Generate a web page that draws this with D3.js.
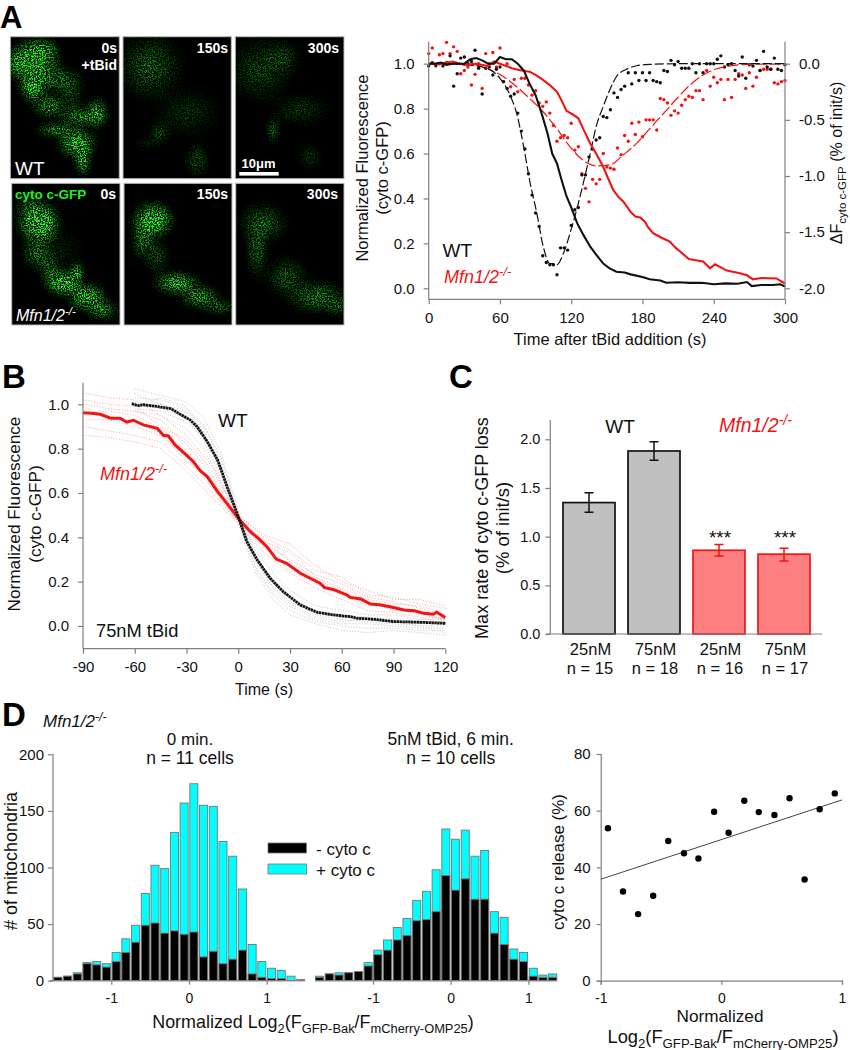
<!DOCTYPE html>
<html><head><meta charset="utf-8">
<script src="https://cdn.jsdelivr.net/npm/d3@7"></script>
<style>
html,body{margin:0;padding:0;background:#fff}
svg{display:block}
text{font-family:"Liberation Sans",Arial,sans-serif;fill:#111}
.axis path,.axis line{stroke:#808080;stroke-width:1.2;shape-rendering:geometricPrecision}
.axis text{font-size:15px;fill:#111}
</style></head><body>
<svg id="fig" width="850" height="1050"></svg>
<script>
// ---------- Panel A: time courses ----------
const aSolidWT = [[0,1],[5,1],[10,1.005],[15,.995],[20,1],[25,1],[30,1],[35,1.02],[40,1.025],[45,1.015],[50,1],[55,1],[60,1.03],[65,1.02],[70,1.02],[75,1],[80,.97],[85,.91],[90,.86],[95,.78],[100,.69],[104,.6],[108,.556],[112,.48],[116,.41],[120,.36],[125,.29],[130,.24],[136,.185],[141,.15],[147,.11],[152,.09],[158,.074],[165,.07],[170,.062],[180,.05],[186,.04],[195,.035],[200,.025],[210,.027],[220,.024],[230,.025],[240,.018],[250,.022],[260,.02],[268,.028],[272,.01],[280,.015],[290,.015],[296,.018],[300,.008]];
const aSolidKO = [[0,1],[10,1],[20,1.01],[30,.995],[40,1],[50,.99],[55,1.01],[60,1],[70,.98],[78,.97],[85,.964],[90,.95],[96.5,.927],[103,.9],[108,.875],[112,.835],[116,.79],[121,.775],[126,.757],[131,.7],[136,.645],[142,.59],[147,.54],[151,.49],[155.5,.437],[160,.405],[164,.386],[170,.34],[174,.32],[178,.315],[182,.297],[185,.27],[189,.245],[196,.225],[203,.208],[208,.18],[212,.163],[219,.13],[225,.125],[231,.119],[237,.089],[241,.107],[246,.093],[251,.079],[257,.073],[262,.067],[268,.058],[273,.04],[280,.046],[293,.044],[297,.03],[300,.022]];
const aFitWT = [[0,0],[20,-.002],[40,-.02],[52,-.056],[60,-.13],[68.5,-.28],[74,-.44],[80,-.74],[85,-1.04],[91,-1.33],[96.5,-1.63],[102,-1.78],[105,-1.78],[108,-1.79],[113.4,-1.69],[119,-1.51],[124.6,-1.3],[130,-1.07],[136,-.8],[141,-.56],[147,-.38],[153,-.22],[158,-.116],[167,-.047],[175,-.018],[186,-.006],[215,0],[260,0],[300,0]];
const aFitKO = [[0,0],[20,0],[40,-.01],[52,-.056],[63,-.116],[74,-.205],[85,-.31],[96.5,-.43],[108,-.58],[119,-.74],[130,-.86],[141,-.91],[153,-.9],[164,-.81],[175,-.71],[186,-.58],[198,-.44],[209,-.31],[220,-.19],[231,-.1],[242,-.047],[254,-.02],[270,-.006],[300,-.003]];
// rate dots, one per 3 s
const aDotsWT = [-.02,.01,-.01,0,-.02,.01,.07,-.2,-.09,.05,.06,0,.02,.12,-.04,-.27,-.04,-.03,-.1,-.05,-.03,-.16,-.22,-.29,-.27,-.44,-.6,-.76,-.98,-1.17,-1.33,-1.45,-1.71,-1.77,-1.79,-1.79,-1.88,-1.64,-1.64,-1.66,-1.44,-1.3,-1.28,-.99,-.99,-.83,-.76,-.68,-.66,-.47,-.48,-.41,-.26,-.3,-.23,-.2,-.08,-.18,-.08,-.15,-.08,-.15,-.08,-.15,-.16,-.17,-.06,-.07,.03,-.01,.02,-.04,-.04,-.04,0,-.08,0,-.08,0,0,0,.04,.07,-.03,-.01,0,-.06,-.11,.06,-.13,-.01,-.02,.03,-.06,.11,-.03,-.05,.05,-.05,-.06,-.01];
const aDotsKO = [.09,.14,-.02,.08,.09,.19,.09,.15,.11,-.09,-.06,-.03,-.19,-.095,0,-.22,.09,0,.1,-.03,.14,-.16,0,-.205,-.14,-.25,-.13,-.13,-.19,-.28,-.24,-.35,-.38,-.34,-.44,-.55,-.69,-.66,-.64,-.66,-.53,-.77,-.74,-.98,-1.11,-1.23,-1.03,-1.07,-1.03,-.8,-.92,-.93,-.94,-.75,-.81,-.64,-.69,-.53,-.63,-.52,-.65,-.5,-.5,-.5,-.59,-.31,-.32,-.35,-.46,-.42,-.44,-.37,-.32,-.29,-.3,-.24,-.24,-.32,-.06,-.2,-.12,-.17,-.14,-.32,-.14,-.3,-.14,-.09,-.1,-.22,-.08,-.2,-.12,-.06,-.05,-.05,-.05,-.17,-.18,-.16,-.15];
const aXTicks = [0,60,120,180,240,300];
const aYTicks = [0,.2,.4,.6,.8,1];
const aRTicks = [0,-.5,-1,-1.5,-2];

// ---------- Panel B ----------
const bMeanKO = [[-90,.962],[-85,.96],[-80,.955],[-74,.937],[-68.5,.937],[-64.6,.92],[-60.8,.928],[-55,.907],[-47,.892],[-43.4,.86],[-40.5,.857],[-36.6,.817],[-30,.771],[-26,.741],[-22,.7],[-18,.674],[-12,.606],[-6.6,.553],[0,.486],[7,.425],[12,.393],[16.6,.358],[22,.302],[28,.283],[36,.238],[47.6,.192],[50,.173],[55,.165],[63,.14],[65,.129],[71,.122],[76.6,.099],[82,.096],[88,.087],[96,.072],[102,.069],[107.6,.057],[113,.053],[115,.062],[120,.038]];
const bMeanWT = [[-61.7,1.003],[-58,.994],[-55,.998],[-47,.99],[-39,.98],[-33,.952],[-28,.93],[-24,.9],[-18,.832],[-12,.749],[-6.5,.629],[0,.493],[5,.38],[11,.298],[18.5,.215],[26,.155],[36,.095],[45.5,.062],[55,.05],[65,.042],[69,.035],[79,.03],[90,.02],[105,.017],[120,.012]];
const bTraceTimesKO = [-90,-75,-60,-45,-30,-15,0,15,30,45,60,75,90,105,120];
const bTracesKO = [
 [1.05,1.03,1.02,.95,.86,.72,.5,.4,.34,.25,.22,.14,.13,.1,.08],
 [1.0,.98,.97,.93,.82,.68,.48,.38,.33,.22,.17,.12,.1,.09,.06],
 [.93,.93,.9,.86,.76,.62,.47,.35,.27,.2,.15,.1,.08,.05,.03],
 [.86,.85,.83,.8,.7,.58,.46,.33,.24,.17,.12,.07,.06,.04,.01],
 [.96,.97,.95,.89,.79,.65,.49,.37,.3,.23,.19,.13,.11,.08,.05],
 [1.02,1.0,.99,.9,.84,.7,.5,.41,.37,.27,.2,.16,.12,.12,.09],
 [.9,.88,.86,.83,.72,.6,.47,.36,.25,.19,.14,.09,.09,.06,.03],
 [.99,.94,.92,.87,.74,.66,.48,.39,.29,.21,.16,.11,.07,.07,.02]
];
const bTraceTimesWT = [-60,-45,-30,-20,-10,0,10,20,30,45,60,75,90,105,120];
const bTracesWT = [
 [1.07,1.04,1.01,.94,.78,.52,.34,.24,.16,.09,.07,.05,.05,.03,.03],
 [1.03,1.02,.98,.91,.74,.5,.31,.21,.12,.07,.04,.03,.02,.01,.01],
 [.98,.97,.92,.85,.69,.48,.27,.15,.09,.03,.01,.01,0,-.01,-.01],
 [.97,.95,.89,.8,.65,.46,.24,.12,.05,.01,-.02,-.03,-.02,-.03,-.04],
 [1.0,1.0,.96,.88,.72,.49,.29,.18,.11,.05,.03,.02,.01,0,0],
 [1.05,1.0,.97,.9,.76,.51,.32,.2,.13,.06,.05,.04,.03,.02,.02],
 [1.01,.98,.94,.83,.67,.47,.26,.14,.07,.02,0,-.01,-.01,-.02,-.02],
 [.99,1.03,.99,.87,.7,.5,.3,.17,.1,.04,.02,.03,.02,0,-.03]
];
const bXTicks = [-90,-60,-30,0,30,60,90,120];
const bYTicks = [0,.2,.4,.6,.8,1];

// ---------- Panel C ----------
const cKeys = ["a","b","c","d"];
const cDose = ["25nM","75nM","25nM","75nM"];
const cN = ["n = 15","n = 18","n = 16","n = 17"];
const cMax = [1.35,1.88,.86,.82];
const cErrLo = [1.25,1.785,.80,.75];
const cErrHi = [1.45,1.975,.92,.88];
const cYTicks = [0,.5,1,1.5,2];

// ---------- Panel D ----------
const binStart = -1.6875, binStep = .125;
const dTotal0 = [3,4,7,16,17,15,25,37,49,77,102,99,131,157,174,155,154,123,110,81,32,17,11,9,4,1];
const dBlack0 = [3,4,6,15,14,12,17,25,34,49,51,42,44,41,43,21,26,15,19,27,6,3,2,2,0,0];
const dTotal6 = [4,6,7,7,8,16,27,36,47,55,71,79,98,134,125,133,110,115,61,56,28,25,11,5,6];
const dBlack6 = [3,6,5,7,8,13,23,27,36,40,53,54,61,93,80,90,72,72,42,32,19,17,4,3,3];
const dYTicks = [0,50,100,150,200];
const dXTicks = [-1,0,1];
const sX = [-.94,-.815,-.69,-.565,-.44,-.31,-.19,-.06,.06,.19,.31,.44,.565,.69,.815,.94];
const sY = [53.8,31.5,23.5,30,49.3,45,43.1,59.6,52.2,63.5,59.5,58.5,64.4,35.7,60.5,66.1];
const sFit = [[-1,35.8],[1,63.8]];
const sYTicks = [0,20,40,60,80];

// ---------- micrograph tiles: box and glow patches [cx,cy,rx,ry,strength] ----------
const tiles = [
 {box:[10.3,36.7,119.3,178.7],blobs:[[33,63,20,17,.75],[33,87,9,10,1],[40,50,14,9,.6],[57,80,20,10,.42],[50,107,9,9,.45],[80,117,16,7,.55],[97,113,8,11,.7],[57,130,16,4,.75],[77,143,14,11,.85],[83,160,5,12,.85],[20,63,9,9,.65],[45,105,14,8,.3],[70,97,10,16,.25]]},
 {box:[123,36.7,231.3,178.7],blobs:[[150,67,24,24,.34],[160,133,7,8,.34],[197,160,9,13,.3],[187,113,25,18,.18],[147,143,9,3,.25]]},
 {box:[235.3,36.7,344,178.7],blobs:[[260,70,24,24,.25],[283,57,13,13,.24],[273,130,4,9,.5],[310,157,9,9,.22],[300,110,22,12,.2]]},
 {box:[11.7,183.3,120,325],blobs:[[42,223,13,15,1],[30,217,11,20,.5],[37,253,11,12,.45],[63,283,13,9,1],[77,273,4,8,1],[87,297,14,10,.85],[103,310,12,7,.6],[50,270,8,12,.4],[60,250,20,16,.12]]},
 {box:[124,183.3,232,325],blobs:[[153,220,15,13,.95],[143,240,9,15,.45],[177,283,17,8,.8],[200,297,15,8,.65],[220,307,12,5,.5],[157,257,9,13,.3]]},
 {box:[235.7,183.3,344,325],blobs:[[263,223,18,15,.36],[257,250,8,22,.36],[287,277,15,15,.34],[317,297,22,12,.45],[337,307,7,6,.45]]}
];
const tileTimes = ["0s","150s","300s","0s","150s","300s"];
const tileRight = [117,228,339,116,228,338];

const RED="#f01414";
const svg = d3.select("#fig");
const defs = svg.append("defs");
const grad = defs.append("radialGradient").attr("id","glow");
grad.append("stop").attr("offset","0%").attr("stop-color","#1dff1d").attr("stop-opacity",1);
grad.append("stop").attr("offset","50%").attr("stop-color","#18e018").attr("stop-opacity",.5);
grad.append("stop").attr("offset","100%").attr("stop-color","#10c010").attr("stop-opacity",0);
const speck = defs.append("filter").attr("id","speck").attr("filterUnits","userSpaceOnUse")
  .attr("x",0).attr("y",0).attr("width",360).attr("height",340).attr("color-interpolation-filters","sRGB");
speck.append("feTurbulence").attr("type","fractalNoise").attr("baseFrequency",.75).attr("numOctaves",2).attr("seed",11).attr("result","n");
speck.append("feColorMatrix").attr("in","n").attr("type","matrix")
  .attr("values","0 0 0 0 1  0 0 0 0 1  0 0 0 0 1  4.2 0 0 0 -1.75").attr("result","m");
speck.append("feGaussianBlur").attr("in","SourceGraphic").attr("stdDeviation",3).attr("result","b");
speck.append("feComposite").attr("in","b").attr("in2","m").attr("operator","arithmetic")
  .attr("k1",2.1).attr("k2",0).attr("k3",0).attr("k4",-.015).attr("result","c");
speck.append("feGaussianBlur").attr("in","c").attr("stdDeviation",.35);

// rich text helper: segments are [string, mode] with mode "", "sub" or "sup"
function rich(g,x,y,segs,o={}){
  const size=o.size||16;
  const t=g.append("text").attr("x",x).attr("y",y).attr("font-size",size)
    .attr("text-anchor",o.anchor||"start");
  if(o.rotate) t.attr("transform",`rotate(-90 ${x} ${y})`);
  if(o.fill) t.style("fill",o.fill);
  if(o.italic) t.attr("font-style","italic");
  if(o.bold) t.attr("font-weight","bold");
  let shift=0;
  segs.forEach(([s,m])=>{
    const target = m==="sub"? size*.28 : m==="sup"? -size*.38 : 0;
    t.append("tspan").attr("dy",target-shift).attr("font-size",m?size*.72:size).text(s);
    shift=target;
  });
  return t;
}
const MFN=[["Mfn1/2",""],["-/-","sup"]];
function label(x,y,s,size,o={}){return rich(svg,x,y,[[s,""]],Object.assign({size},o));}

// ---------- micrographs ----------
const tileG = svg.append("g");
tiles.forEach((t,i)=>{
  const [x0,y0,x1,y1]=t.box;
  const g=tileG.append("g");
  g.append("rect").attr("x",x0).attr("y",y0).attr("width",x1-x0).attr("height",y1-y0).attr("fill","#000").attr("stroke","#bdbdbd").attr("stroke-width",1);
  const cid="tc"+i;
  defs.append("clipPath").attr("id",cid).append("rect").attr("x",x0).attr("y",y0).attr("width",x1-x0).attr("height",y1-y0);
  g.append("g").attr("clip-path",`url(#${cid})`).append("g").attr("filter","url(#speck)")
   .selectAll("ellipse").data(t.blobs).join("ellipse")
   .attr("cx",d=>d[0]).attr("cy",d=>d[1]).attr("rx",d=>d[2]*1.6).attr("ry",d=>d[3]*1.6)
   .attr("fill","url(#glow)").attr("opacity",d=>d[4]);
  label(tileRight[i],i<3?52.5:199,tileTimes[i],14,{anchor:"end",bold:true,fill:"#fff"});
});
label(117,70,"+tBid",14,{anchor:"end",bold:true,fill:"#fff"});
label(15,174.5,"WT",19,{fill:"#fff"});
label(15,199,"cyto c-GFP",13.5,{bold:true,fill:"#22ee22"});
rich(svg,16,321,MFN,{size:16,italic:true,fill:"#fff"});
label(258.5,168,"10\u03BCm",13,{anchor:"middle",bold:true,fill:"#fff"});
const scaleBarUm=[0,10];
const sb=d3.scaleLinear().domain(scaleBarUm).range([239.3,278.7]);
svg.append("rect").attr("x",sb(0)).attr("y",172).attr("width",sb(10)-sb(0)).attr("height",3.6).attr("fill","#fff");

// panel letters
[["A",0,28,31],["B",2,388,33],["C",449,388,33],["D",2,726,33]].forEach(([s,x,y,z])=>label(x,y,s,z,{bold:true,fill:"#000"}));

function axis(gen,tx,ty){return svg.append("g").attr("class","axis").attr("transform",`translate(${tx},${ty})`).call(gen);}
const pts=(xs,ys)=>xs.map((x,i)=>[x,ys[i]]);

// ---------- Panel A chart ----------
{
 const x=d3.scaleLinear().domain([0,300]).range([428.7,785]);
 const y=d3.scaleLinear().domain([0,1]).range([288.3,63.7]);
 const yr=d3.scaleLinear().domain([-2,0]).range([288.3,63.7]);
 const yBottom=299.3,yTop=41.7;
 const dots=(arr,c)=>svg.append("g").selectAll("circle").data(arr).join("circle")
   .attr("cx",(d,i)=>x(i*3)).attr("cy",d=>yr(d)).attr("r",1.7).attr("fill",c);
 dots(aDotsKO,RED); dots(aDotsWT,"#111");
 const lr=d3.line().x(d=>x(d[0])).y(d=>yr(d[1])).curve(d3.curveMonotoneX);
 const l=d3.line().x(d=>x(d[0])).y(d=>y(d[1]));
 svg.append("path").attr("d",lr(aFitKO)).attr("fill","none").attr("stroke",RED).attr("stroke-width",1.2).attr("stroke-dasharray","11 3");
 svg.append("path").attr("d",lr(aFitWT)).attr("fill","none").attr("stroke","#111").attr("stroke-width",1.2).attr("stroke-dasharray","9 3");
 svg.append("path").attr("d",l(aSolidKO)).attr("fill","none").attr("stroke",RED).attr("stroke-width",2.1);
 svg.append("path").attr("d",l(aSolidWT)).attr("fill","none").attr("stroke","#111").attr("stroke-width",2.1);
 axis(d3.axisBottom(x).tickValues(aXTicks).tickSize(5).tickPadding(8).tickFormat(d3.format("d")),0,yBottom).select(".domain").attr("d",`M${x(0)},0H${x(300)}`);
 axis(d3.axisLeft(y).tickValues(aYTicks).tickSize(5).tickPadding(9).tickFormat(d3.format(".1f")),x(0),0).select(".domain").attr("d",`M0,${yTop}V${yBottom}`);
 axis(d3.axisRight(yr).tickValues(aRTicks).tickSize(5).tickPadding(9).tickFormat(d=>d3.format(".1f")(d).replace("\u2212","-")),x(300),0).select(".domain").attr("d",`M0,${yTop}V${yBottom}`);
 label(368,168,"Normalized Fluorescence",16.5,{anchor:"middle",rotate:true});
 label(388,168,"(cyto c-GFP)",16.5,{anchor:"middle",rotate:true});
 rich(svg,842,163,[["\u0394F",""],["cyto c-GFP","sub"],[" (% of init/s)",""]],{size:16,anchor:"middle",rotate:true});
 label(610,344.5,"Time after tBid addition (s)",16.5,{anchor:"middle"});
 label(442.5,257,"WT",19);
 rich(svg,444,282.5,MFN,{size:18,italic:true,fill:RED});
}

// ---------- Panel B chart ----------
{
 const x=d3.scaleLinear().domain([-90,120]).range([83,445.3]);
 const y=d3.scaleLinear().domain([0,1]).range([626,404.3]);
 const yBottom=648.7,yTop=382.7;
 const l=d3.line().x(d=>x(d[0])).y(d=>y(d[1]));
 bTracesKO.forEach(t=>svg.append("path").attr("d",l(pts(bTraceTimesKO,t))).attr("fill","none").attr("stroke","#f59a9a").attr("stroke-width",.9).attr("stroke-dasharray","1 1.8"));
 bTracesWT.forEach(t=>svg.append("path").attr("d",l(pts(bTraceTimesWT,t))).attr("fill","none").attr("stroke","#bcbcbc").attr("stroke-width",.9).attr("stroke-dasharray","1 1.8"));
 svg.append("path").attr("d",l(bMeanKO)).attr("fill","none").attr("stroke",RED).attr("stroke-width",3);
 svg.append("path").attr("d",l(bMeanWT)).attr("fill","none").attr("stroke","#111").attr("stroke-width",2.8).attr("stroke-dasharray","2.4 .5");
 axis(d3.axisBottom(x).tickValues(bXTicks).tickSize(5).tickPadding(8).tickFormat(d=>String(d)),0,yBottom).select(".domain").attr("d",`M${x(-90)},0H${x(120)}`);
 axis(d3.axisLeft(y).tickValues(bYTicks).tickSize(5).tickPadding(9).tickFormat(d3.format(".1f")),x(-90),0).select(".domain").attr("d",`M0,${yTop}V${yBottom}`);
 label(20,514,"Normalized Fluorescence",17.2,{anchor:"middle",rotate:true});
 label(41,514,"(cyto c-GFP)",17.2,{anchor:"middle",rotate:true});
 label(264,695,"Time (s)",16,{anchor:"middle"});
 label(218,426.5,"WT",19);
 rich(svg,100,480,MFN,{size:18,italic:true,fill:RED});
 label(96,636.5,"75nM tBid",18.3);
}

// ---------- Panel C chart ----------
{
 const x=d3.scaleBand().domain(cKeys).range([556.5,816.5]).paddingInner(.2).paddingOuter(.1);
 const y=d3.scaleLinear().domain([0,2]).range([634,439.3]);
 const colr=i=>i<2?"#111":RED, fill=i=>i<2?"#c0c0c0":"#ff8080";
 const g=svg.append("g");
 cKeys.forEach((k,i)=>{
  g.append("rect").attr("x",x(k)).attr("y",y(cMax[i])).attr("width",x.bandwidth()).attr("height",y(0)-y(cMax[i]))
   .attr("fill",fill(i)).attr("stroke",colr(i)).attr("stroke-width",1.7);
  const c=x(k)+x.bandwidth()/2;
  g.append("path").attr("d",`M${c-4.5},${y(cErrHi[i])}H${c+4.5}M${c},${y(cErrHi[i])}V${y(cErrLo[i])}M${c-4.5},${y(cErrLo[i])}H${c+4.5}`)
   .attr("stroke",colr(i)).attr("stroke-width",1.5).attr("fill","none");
  label(c+1.5,655,cDose[i],16.5,{anchor:"middle"});
  label(c+1,674,cN[i],16.5,{anchor:"middle"});
  if(i>1) label(c+1,543.5,"***",19,{anchor:"middle"});
 });
 const yAx=axis(d3.axisLeft(y).tickValues(cYTicks).tickSize(5).tickPadding(5).tickFormat(d3.format(".1f")),550.3,0);
 yAx.select(".domain").attr("d",`M0,420V634`);
 yAx.selectAll("text").style("font-size","14.5px");
 svg.append("line").attr("x1",546).attr("x2",822).attr("y1",y(0)).attr("y2",y(0)).attr("stroke","#808080").attr("stroke-width",1.2);
 label(488,528,"Max rate of cyto c-GFP loss",18,{anchor:"middle",rotate:true});
 label(509,528,"(% of init/s)",18.5,{anchor:"middle",rotate:true});
 label(620,432.5,"WT",19,{anchor:"middle"});
 rich(svg,719,432,MFN,{size:19.5,italic:true,fill:RED});
}

// ---------- Panel D histograms ----------
function hist(center,total,black,xMin,xMax){
 const x=d3.scaleLinear().domain([-1,1]).range([center-77.7,center+77.7]);
 const y=d3.scaleLinear().domain([0,200]).range([980.7,754.3]);
 const w=.125*77.7*.83;
 const bx=i=>x(binStart+i*binStep)-w/2;
 const g=svg.append("g");
 g.selectAll(".t").data(total).join("rect").attr("class","t").attr("x",(d,i)=>bx(i)).attr("width",w)
  .attr("y",d=>y(d)).attr("height",d=>y(0)-y(d)).attr("fill","#00ffff").attr("stroke","#777").attr("stroke-width",.9);
 g.selectAll(".b").data(black).join("rect").attr("class","b").attr("x",(d,i)=>bx(i)).attr("width",w)
  .attr("y",d=>y(d)).attr("height",d=>y(0)-y(d)).attr("fill","#000").attr("stroke","#777").attr("stroke-width",.9);
 const ax=axis(d3.axisBottom(x).tickValues(dXTicks).tickSize(4).tickPadding(8).tickFormat(d=>String(d)),0,980.7);
 ax.select(".domain").attr("d",`M${xMin},0H${xMax}`);
 ax.selectAll("text").style("font-size","14px");
 return y;
}
const dy=hist(189,dTotal0,dBlack0,50,305);
hist(450.7,dTotal6,dBlack6,315,557);
axis(d3.axisLeft(dy).tickValues(dYTicks).tickSize(5).tickPadding(4),53,0).select(".domain").attr("d","M0,754.3V980.7");
label(17,861,"# of mitochondria",18,{anchor:"middle",rotate:true});
label(190,745,"0 min.",17,{anchor:"middle"});
label(190,764,"n = 11 cells",17.5,{anchor:"middle"});
label(450.7,745,"5nM tBid, 6 min.",17.5,{anchor:"middle"});
label(450.7,764,"n = 10 cells",17.5,{anchor:"middle"});
rich(svg,43,727,MFN,{size:17,italic:true});
svg.append("rect").attr("x",268).attr("y",843).attr("width",38.5).attr("height",10).attr("fill","#000").attr("stroke","#777").attr("stroke-width",.8);
svg.append("rect").attr("x",268).attr("y",864).attr("width",38.5).attr("height",10).attr("fill","#00ffff").attr("stroke","#777").attr("stroke-width",.8);
label(316,855,"- cyto c",17);
label(316,875.5,"+ cyto c",17);
const logLabel=[["Log",""],["2","sub"],["(F",""],["GFP-Bak","sub"],["/F",""],["mCherry-OMP25","sub"],[")",""]];
rich(svg,313,1028,[["Normalized ",""]].concat(logLabel),{size:17.9,anchor:"middle"});

// ---------- Panel D scatter ----------
{
 const x=d3.scaleLinear().domain([-1,1]).range([600.7,842]);
 const y=d3.scaleLinear().domain([0,80]).range([980.7,754]);
 const l=d3.line().x(d=>x(d[0])).y(d=>y(d[1]));
 svg.append("path").attr("d",l(sFit)).attr("stroke","#444").attr("stroke-width",1).attr("fill","none");
 svg.append("g").selectAll("circle").data(pts(sX,sY)).join("circle").attr("cx",d=>x(d[0])).attr("cy",d=>y(d[1])).attr("r",3.2).attr("fill","#000");
 axis(d3.axisBottom(x).tickValues(dXTicks).tickSize(4).tickPadding(8).tickFormat(d=>String(d)),0,980.7).selectAll("text").style("font-size","14px");
 axis(d3.axisLeft(y).tickValues(sYTicks).tickSize(4).tickPadding(6),600.7,0);
 label(564,862,"cyto c release (%)",17,{anchor:"middle",rotate:true});
 label(720,1022,"Normalized",17.2,{anchor:"middle"});
 rich(svg,723,1043,logLabel,{size:18.3,anchor:"middle"});
}
</script>
</body></html>
